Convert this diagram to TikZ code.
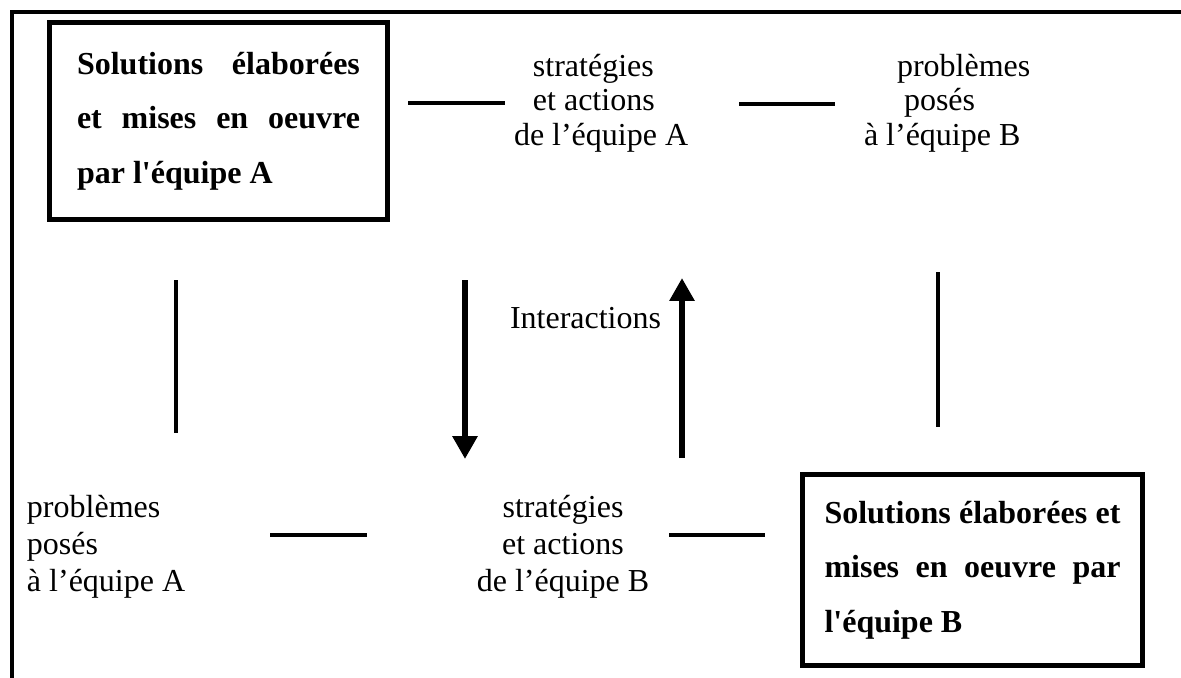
\documentclass[tikz,border=0pt]{standalone}
\usepackage{fontspec}
\setmainfont{Liberation Serif}
\usetikzlibrary{arrows.meta, positioning}
\tikzset{
  every picture/.style={line width=1.5pt},
  outerframe/.style={line width=1.5pt},
  solbox/.style={draw, line width=1.9pt, align=justify, inner sep=0pt, font=\fontsize{12pt}{20.4pt}\selectfont\bfseries},
  txt/.style={inner sep=0pt, align=left, font=\fontsize{12pt}{13pt}\selectfont},
  txtlow/.style={txt, font=\fontsize{12pt}{13.9pt}\selectfont},
  link/.style={line width=1.5pt},
  flow/.style={-{Triangle[length=8.6pt, width=9pt]}, line width=2.6pt},
}
\begin{document}
\begin{tikzpicture}[x=0.375pt, y=-0.375pt]
  \useasboundingbox (0,0) rectangle (1181,677);
  % frame, open on the right and at the bottom
  \draw[outerframe] (12,690) -- (12,12) -- (1190,12);
  % the two solution boxes
  \node[solbox, minimum width=126.75pt, minimum height=73.9pt, text width=106.1pt] (boxA) at (218.5,121)
    {Solutions élaborées\linebreak et mises en oeuvre\linebreak par l\textquotesingle équipe A\par\vspace*{9pt}};
  \node[solbox, minimum width=127.5pt, minimum height=71.6pt, text width=111pt] (boxB) at (972.5,570)
    {Solutions élaborées et\linebreak mises en oeuvre par\linebreak l\textquotesingle équipe B\par\vspace*{4pt}};
  % texts
  \node[txt, anchor=west] (stratA) at (512,103) {\hspace*{7.1pt}stratégies\\\hspace*{7.1pt}et actions\\de l’équipe A};
  \node[txt, anchor=west] (probB) at (862,103) {\hspace*{12.4pt}problèmes\\\hspace*{15pt}posés\\à l’équipe B};
  \node[txtlow, anchor=west] (probA) at (25,547) {problèmes\\posés\\à l’équipe A};
  \node[txtlow, align=center] (stratB) at (563,547) {stratégies\\et actions\\de l’équipe B};
  \node[txt, anchor=base west] (inter) at (508,328) {Interactions};
  % short links between the texts
  \foreach \n/\xa/\xb/\y in {tA/408/505/103, tB/739/835/104, bA/270/367/535, bB/669/765/535} {
    \coordinate (\n1) at (\xa,\y);
    \coordinate (\n2) at (\xb,\y);
    \draw[link] (\n1) -- (\n2);
  }
  \foreach \n/\x/\ya/\yb in {vA/176/280/433, vB/938/272/427} {
    \coordinate (\n1) at (\x,\ya);
    \coordinate (\n2) at (\x,\yb);
    \draw[link] (\n1) -- (\n2);
  }
  % interactions
  \coordinate (dn1) at (465,280);
  \coordinate (dn2) at (465,459);
  \coordinate (up1) at (682,458);
  \coordinate (up2) at (682,278);
  \draw[flow] (dn1) -- (dn2);
  \draw[flow] (up1) -- (up2);
\end{tikzpicture}
\end{document}
